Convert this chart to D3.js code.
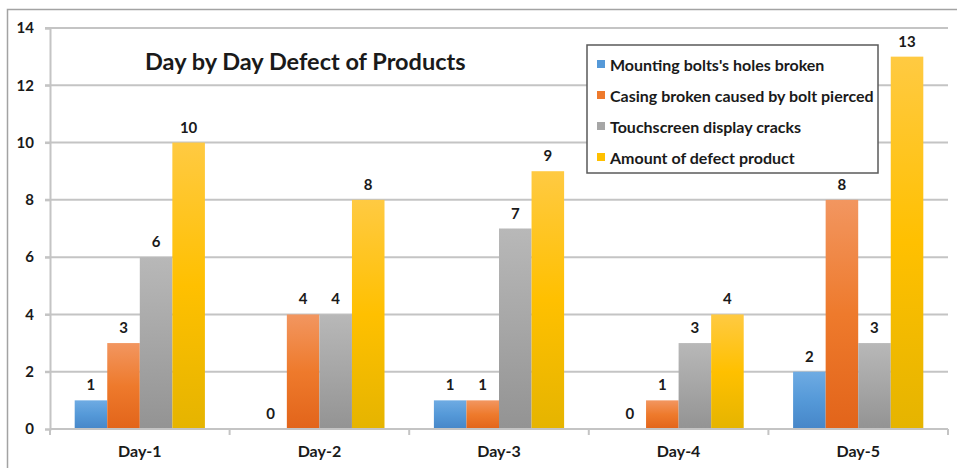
<!DOCTYPE html>
<html>
<head>
<meta charset="utf-8">
<script src="https://cdn.jsdelivr.net/npm/d3@7"></script>
<style>
  html, body { margin: 0; padding: 0; background: #fff; }
  svg { display: block; }
  text { font-family: Lato, "Open Sans", sans-serif; font-weight: 700; fill: #1a1a1a; }
</style>
</head>
<body>
<svg id="chart" width="957" height="468"></svg>
<script>
// Categories and series
const days = ["Day-1", "Day-2", "Day-3", "Day-4", "Day-5"];
const seriesNames = [
  "Mounting bolts's holes broken",
  "Casing broken caused by bolt pierced",
  "Touchscreen display cracks",
  "Amount of defect product"
];
const mountingBolts = [1, 0, 1, 0, 2];
const casingBroken  = [3, 4, 1, 1, 8];
const touchscreen   = [6, 4, 7, 3, 3];
const amountDefect  = [10, 8, 9, 4, 13];
const yTicks = [0, 2, 4, 6, 8, 10, 12, 14];

const seriesValues = [mountingBolts, casingBroken, touchscreen, amountDefect];
// gradient stops: top, middle, bottom
const seriesColors = [
  ["#6eabe3", "#5599d8", "#4686c8"],
  ["#f29660", "#ee7a2c", "#e2641a"],
  ["#b8b8b8", "#a6a6a6", "#939393"],
  ["#ffca42", "#ffc000", "#e5b400"]
];

const svg = d3.select("#chart");
const defs = svg.append("defs");
seriesColors.forEach((c, i) => {
  const g = defs.append("linearGradient")
    .attr("id", "grad" + i)
    .attr("x1", 0).attr("y1", 0).attr("x2", 0).attr("y2", 1);
  g.append("stop").attr("offset", "0%").attr("stop-color", c[0]);
  g.append("stop").attr("offset", "50%").attr("stop-color", c[1]);
  g.append("stop").attr("offset", "100%").attr("stop-color", c[2]);
});

// outer chart frame
svg.append("rect")
  .attr("x", 7.5).attr("y", 9.5)
  .attr("width", 980).attr("height", 480)
  .attr("fill", "none")
  .attr("stroke", "#a3a3a3")
  .attr("stroke-width", 1.5);

const plotLeft = 50, plotRight = 948, plotTop = 28, plotBottom = 429;

const x = d3.scaleBand()
  .domain(days)
  .range([plotLeft, plotRight])
  .paddingInner(0.275)
  .paddingOuter(0.1375);

const xSeries = d3.scaleBand()
  .domain(d3.range(seriesNames.length))
  .range([0, x.bandwidth()])
  .padding(0);

const y = d3.scaleLinear()
  .domain([0, 14])
  .range([plotBottom, plotTop]);

// horizontal gridlines
svg.append("g")
  .selectAll("line")
  .data(yTicks.filter(t => t > 0))
  .join("line")
  .attr("x1", plotLeft - 5).attr("x2", plotRight)
  .attr("y1", d => y(d)).attr("y2", d => y(d))
  .attr("stroke", "#c4c4c4")
  .attr("stroke-width", 2);

// y axis
const yAxis = svg.append("g")
  .attr("transform", `translate(${plotLeft},0)`)
  .call(d3.axisLeft(y).tickValues(yTicks).tickSize(5).tickPadding(11));
yAxis.select(".domain").attr("stroke", "#c4c4c4").attr("stroke-width", 2);
yAxis.selectAll(".tick line").attr("stroke", "#c4c4c4").attr("stroke-width", 2);
yAxis.selectAll(".tick text")
  .attr("font-size", 15).attr("font-family", "Lato, sans-serif")
  .attr("font-weight", 700).attr("fill", "#1a1a1a");

// bars
const groups = svg.append("g")
  .selectAll("g")
  .data(days)
  .join("g")
  .attr("transform", d => `translate(${x(d)},0)`);

groups.selectAll("rect")
  .data((d, i) => seriesValues.map((vals, s) => ({ s, v: vals[i] })))
  .join("rect")
  .attr("x", d => xSeries(d.s))
  .attr("width", xSeries.bandwidth())
  .attr("y", d => y(d.v))
  .attr("height", d => y(0) - y(d.v))
  .attr("fill", d => `url(#grad${d.s})`);

groups.selectAll("text")
  .data((d, i) => seriesValues.map((vals, s) => ({ s, v: vals[i] })))
  .join("text")
  .attr("x", d => xSeries(d.s) + xSeries.bandwidth() / 2)
  .attr("y", d => y(d.v) - 10)
  .attr("text-anchor", "middle")
  .attr("font-size", 15)
  .text(d => d.v);

// x axis
const xAxis = svg.append("g")
  .attr("transform", `translate(0,${plotBottom})`)
  .call(d3.axisBottom(x).tickSize(0).tickPadding(17));
xAxis.select(".domain")
  .attr("d", `M${plotLeft},0H${plotRight}`)
  .attr("stroke", "#c4c4c4").attr("stroke-width", 2);
xAxis.selectAll(".tick text")
  .attr("font-size", 16).attr("font-family", "Lato, sans-serif")
  .attr("font-weight", 700).attr("fill", "#1a1a1a");
// category boundary ticks
const boundaries = [plotLeft].concat(days.map(d => x(d) + x.bandwidth() + x.step() * x.paddingInner() / 2));
boundaries[boundaries.length - 1] = plotRight;
xAxis.append("g")
  .selectAll("line")
  .data(boundaries)
  .join("line")
  .attr("x1", d => d).attr("x2", d => d)
  .attr("y1", 0).attr("y2", 6)
  .attr("stroke", "#c4c4c4").attr("stroke-width", 2);

// title
svg.append("text")
  .attr("x", 145).attr("y", 70)
  .attr("font-size", 23.5)
  .text("Day by Day Defect of Products");

// legend
const legend = svg.append("g").attr("transform", "translate(587,45)");
legend.append("rect")
  .attr("x", 0).attr("y", 0)
  .attr("width", 291).attr("height", 128)
  .attr("fill", "#fff")
  .attr("stroke", "#5a5a5a")
  .attr("stroke-width", 1.5);
const items = legend.selectAll("g.item")
  .data(seriesNames)
  .join("g")
  .attr("class", "item")
  .attr("transform", (d, i) => `translate(10,${20 + i * 31})`);
items.append("rect")
  .attr("x", 0).attr("y", -5)
  .attr("width", 8).attr("height", 8)
  .attr("fill", (d, i) => seriesColors[i][1]);
items.append("text")
  .attr("x", 13).attr("y", 5.5)
  .attr("font-size", 16)
  .text(d => d);
</script>
</body>
</html>
